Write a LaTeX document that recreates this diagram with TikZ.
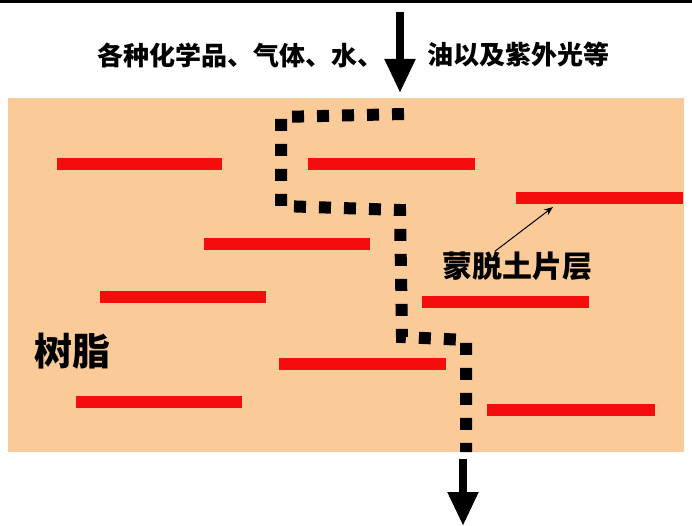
\documentclass[tikz,border=0pt]{standalone}
\usepackage{fontspec}
\newfontfamily\cjk{Noto Sans CJK SC}
\usetikzlibrary{arrows.meta}
\definecolor{resin}{RGB}{250,202,152}
\definecolor{clay}{RGB}{245,12,12}
\tikzset{
  clayband/.style={draw=clay, line width=12pt},
  flowarrow/.style={line width=8pt, -{Triangle[width=29pt,length=34pt]}},
  dotpath/.style={line width=12pt, dash pattern=on 12pt off 13pt},
  cjktext/.style={font=\cjk\bfseries\fontsize{26}{26}\selectfont, inner sep=0pt}
}
\begin{document}
\begin{tikzpicture}[x=1pt,y=-1pt]
\useasboundingbox (0,0) rectangle (692,526);
\fill[white] (0,0) rectangle (692,526);
\draw[line width=3pt] (0,1.5) -- (692,1.5);
% resin block
\fill[resin] (8,98) rectangle (684,452);
% clay layers
\draw[clayband] (57,164) -- (222,164);
\draw[clayband] (308,164) -- (475,164);
\draw[clayband] (516,198) -- (683,198);
\draw[clayband] (204,244) -- (370,244);
\draw[clayband] (100,297) -- (266,297);
\draw[clayband] (422,302) -- (589,302);
\draw[clayband] (279,364) -- (446,364);
\draw[clayband] (76,402) -- (242,402);
\draw[clayband] (487,410) -- (655,410);
% tortuous path
\draw[dotpath] (404,114) -- (281,117) -- (281,206) -- (400,210) -- (402,337) -- (466,340) -- (466,452);
% top text
\node[cjktext] (t1) at (240,55) {各种化学品、气体、水、};
\node[cjktext] (t2) at (518,55) {油以及紫外光等};
% arrows
\coordinate (a1) at (400,12);
\coordinate (a2) at (400,93);
\draw[flowarrow] (a1) -- (a2);
\coordinate (b1) at (463,459);
\coordinate (b2) at (463,526);
\draw[flowarrow] (b1) -- (b2);
% labels
\node[font=\cjk\bfseries\fontsize{30}{30}\selectfont, inner sep=0pt] (lbl) at (517,266) {蒙脱土片层};
\coordinate (tip) at (553,207);
\draw[line width=1pt, -{Stealth[length=9pt,width=7pt]}] ([xshift=53pt]lbl.north west) -- (tip);
\node[font=\cjk\bfseries\fontsize{38}{38}\selectfont, inner sep=0pt] (resinlbl) at (72,351) {树脂};
\end{tikzpicture}
\end{document}
